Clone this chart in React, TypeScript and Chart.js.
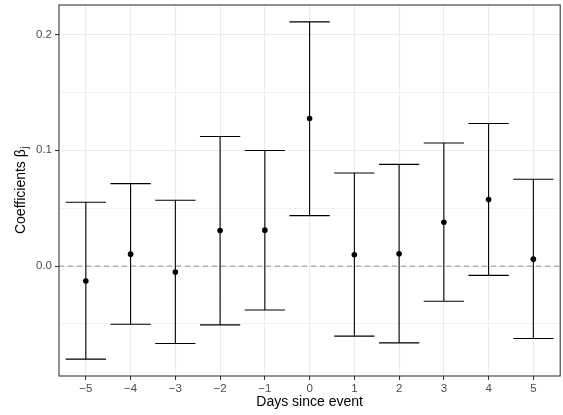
import React, { useEffect, useRef } from 'react';
import { Chart, registerables } from 'chart.js';

Chart.register(...registerables);

const days = [-5, -4, -3, -2, -1, 0, 1, 2, 3, 4, 5];
const estimates = [-0.0129, 0.0103, -0.0052, 0.0307, 0.031, 0.1274, 0.0098, 0.0107, 0.0379, 0.0574, 0.006];
const lowerCI = [-0.0803, -0.0502, -0.0668, -0.0508, -0.0379, 0.0436, -0.0605, -0.0663, -0.0304, -0.008, -0.0625];
const upperCI = [0.0551, 0.0712, 0.0568, 0.1119, 0.0998, 0.2108, 0.0804, 0.0878, 0.1062, 0.1231, 0.0749];

const yTickValues = [-0.05, 0, 0.05, 0.1, 0.15, 0.2];
const yTickLabels = ['', '0.0', '', '0.1', '', '0.2'];
const xTickLabels = ['\u22125', '\u22124', '\u22123', '\u22122', '\u22121', '0', '1', '2', '3', '4', '5'];

const xTitle = 'Days since event';
const yTitleMain = 'Coefficients \u03B2';
const yTitleSub = 'j';

const X_MIN = -5.6;
const X_MAX = 5.6;
const Y_MIN = -0.0949;
const Y_MAX = 0.2254;
const CAP_HALF = 0.45;

const FONT = '"Liberation Sans", Arial, Helvetica, sans-serif';

function isMajor(v: number) {
  return Math.abs(v * 10 - Math.round(v * 10)) < 1e-6;
}

export default function App() {
  const ref = useRef<HTMLCanvasElement | null>(null);

  useEffect(() => {
    if (!ref.current) return;

    const whiskers: any[] = [];
    days.forEach((d, i) => {
      whiskers.push({ x: d, y: lowerCI[i] });
      whiskers.push({ x: d, y: upperCI[i] });
      whiskers.push({ x: d, y: null });
      whiskers.push({ x: d - CAP_HALF, y: upperCI[i] });
      whiskers.push({ x: d + CAP_HALF, y: upperCI[i] });
      whiskers.push({ x: d, y: null });
      whiskers.push({ x: d - CAP_HALF, y: lowerCI[i] });
      whiskers.push({ x: d + CAP_HALF, y: lowerCI[i] });
      whiskers.push({ x: d, y: null });
    });

    const points = days.map((d, i) => ({ x: d, y: estimates[i] }));

    const decor = {
      id: 'decor',
      afterDatasetsDraw(chart: any) {
        const { ctx, chartArea: a } = chart;
        ctx.save();
        ctx.strokeStyle = '#333333';
        ctx.lineWidth = 1.07;
        ctx.strokeRect(a.left, a.top, a.right - a.left, a.bottom - a.top);
        ctx.restore();
      },
      afterDraw(chart: any) {
        const { ctx, chartArea: a } = chart;
        ctx.save();
        ctx.fillStyle = '#000000';
        ctx.font = `14px ${FONT}`;
        ctx.textAlign = 'center';
        ctx.textBaseline = 'middle';
        ctx.fillText(xTitle, (a.left + a.right) / 2, 402);

        const cy = (a.top + a.bottom) / 2;
        ctx.translate(20, cy);
        ctx.rotate(-Math.PI / 2);
        ctx.textAlign = 'left';
        ctx.textBaseline = 'alphabetic';
        ctx.font = `14px ${FONT}`;
        const w1 = ctx.measureText(yTitleMain).width;
        ctx.font = `10px ${FONT}`;
        const w2 = ctx.measureText(yTitleSub).width;
        const start = -(w1 + w2) / 2;
        ctx.font = `14px ${FONT}`;
        ctx.fillText(yTitleMain, start, 5);
        ctx.font = `10px ${FONT}`;
        ctx.fillText(yTitleSub, start + w1 + 0.5, 8);
        ctx.restore();
      },
    };

    const chart = new Chart(ref.current, {
      type: 'line',
      data: {
        datasets: [
          {
            type: 'scatter',
            label: 'estimate',
            data: points,
            pointRadius: 2.8,
            pointHoverRadius: 2.8,
            pointBackgroundColor: '#000000',
            pointBorderWidth: 0,
            showLine: false,
            order: 0,
          } as any,
          {
            label: 'ci',
            data: whiskers,
            borderColor: '#000000',
            borderWidth: 1.1,
            pointRadius: 0,
            spanGaps: false,
            fill: false,
            order: 1,
          },
          {
            label: 'zero',
            data: [
              { x: X_MIN, y: 0 },
              { x: X_MAX, y: 0 },
            ],
            borderColor: '#A6A6A6',
            borderWidth: 1.1,
            borderDash: [5, 4],
            pointRadius: 0,
            fill: false,
            order: 2,
          },
        ],
      },
      options: {
        animation: false,
        responsive: false,
        maintainAspectRatio: false,
        events: [],
        layout: { padding: { top: 5, right: 2, left: 0, bottom: 0 } },
        plugins: {
          legend: { display: false },
          tooltip: { enabled: false },
          title: { display: false },
        },
        scales: {
          x: {
            type: 'linear',
            min: X_MIN,
            max: X_MAX,
            afterBuildTicks(scale: any) {
              scale.ticks = days.map((v) => ({ value: v }));
            },
            afterFit(scale: any) {
              scale.height = 39;
              scale.paddingLeft = 0;
              scale.paddingRight = 0;
            },
            ticks: {
              autoSkip: false,
              maxRotation: 0,
              padding: 2,
              color: '#4D4D4D',
              font: { family: FONT, size: 11.5 },
              callback: (_v: any, i: number) => xTickLabels[i],
            },
            grid: {
              color: '#EBEBEB',
              lineWidth: 1.07,
              tickColor: '#333333',
              tickWidth: 1.07,
              tickLength: 4,
              drawTicks: true,
            },
            border: { display: false },
          },
          y: {
            type: 'linear',
            min: Y_MIN,
            max: Y_MAX,
            afterBuildTicks(scale: any) {
              scale.ticks = yTickValues.map((v) => ({ value: v }));
            },
            afterFit(scale: any) {
              scale.width = 59;
              scale.paddingTop = 0;
              scale.paddingBottom = 0;
            },
            ticks: {
              autoSkip: false,
              padding: 3,
              color: '#4D4D4D',
              font: { family: FONT, size: 11.5 },
              callback: (_v: any, i: number) => yTickLabels[i],
            },
            grid: {
              color: '#EBEBEB',
              lineWidth: (ctx: any) => (ctx.tick && isMajor(ctx.tick.value) ? 1.07 : 0.6),
              tickColor: (ctx: any) => (ctx.tick && isMajor(ctx.tick.value) ? '#333333' : 'rgba(0,0,0,0)'),
              tickWidth: 1.07,
              tickLength: 4,
              drawTicks: true,
            },
            border: { display: false },
          },
        },
      },
      plugins: [decor],
    } as any);

    return () => chart.destroy();
  }, []);

  return (
    <div style={{ position: 'absolute', left: 0, top: 0, width: 563, height: 415, background: '#ffffff' }}>
      <canvas ref={ref} width={563} height={415} style={{ display: 'block', width: 563, height: 415 }} />
    </div>
  );
}
